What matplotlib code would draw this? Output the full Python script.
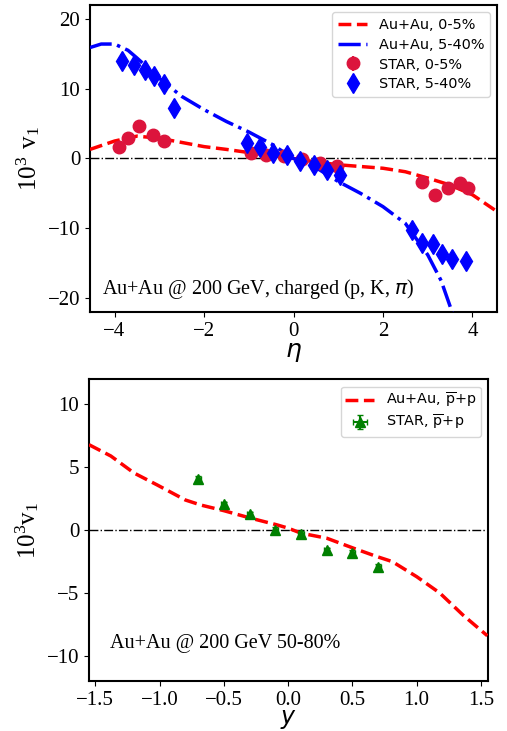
import matplotlib
matplotlib.use("Agg")
import matplotlib.pyplot as plt
import numpy as np

plt.rcParams["font.family"] = ["Liberation Serif", "DejaVu Serif"]
plt.rcParams["mathtext.fontset"] = "dejavusans"
plt.rcParams["axes.linewidth"] = 1.5

# ---- top panel: charged hadrons v1(eta) ----
star_eta_c = [-3.9, -3.7, -3.45, -3.15, -2.9, -0.95, -0.62, -0.22, 0.2, 0.6, 0.97,
              2.87, 3.17, 3.46, 3.72, 3.91]
star_v1_c = [1.6, 3.0, 4.7, 3.4, 2.5, 0.75, 0.5, 0.4, -0.1, -0.7, -1.1,
             -3.3, -5.2, -4.2, -3.45, -4.3]
star_eta_p = [-3.83, -3.57, -3.33, -3.13, -2.9, -2.67, -1.05, -0.75, -0.45, -0.15,
              0.15, 0.45, 0.75, 1.05, 2.66, 2.88, 3.11, 3.33, 3.55, 3.85]
star_v1_p = [13.9, 13.4, 12.7, 11.85, 10.7, 7.2, 2.2, 1.7, 0.8, 0.5,
             -0.3, -1.0, -1.6, -2.4, -10.2, -12.1, -12.3, -13.65, -14.4, -14.75]

model_eta_c = [-4.55, -4.0, -3.5, -3.0, -2.5, -2.0, -1.5, -1.0, -0.5, 0.0, 0.5,
               1.0, 1.5, 2.0, 2.5, 3.0, 3.5, 4.0, 4.55]
model_v1_c = [1.3, 2.5, 3.2, 2.9, 2.3, 1.7, 1.3, 0.85, 0.45, 0.0, -0.5,
              -0.9, -1.15, -1.4, -1.9, -2.8, -3.8, -5.2, -7.6]
model_eta_p = [-4.55, -4.3, -4.0, -3.7, -3.5, -3.0, -2.5, -2.0, -1.5, -1.0, -0.5,
               0.0, 0.5, 1.0, 1.5, 2.0, 2.5, 3.0, 3.3, 3.6]
model_v1_p = [15.9, 16.4, 16.4, 15.5, 14.4, 11.5, 8.9, 7.0, 5.3, 3.8, 2.1,
              0.0, -1.3, -3.3, -5.0, -6.9, -9.3, -13.8, -17.5, -23.0]

# ---- bottom panel: antiproton - proton v1(y) ----
star_y = [-0.7, -0.5, -0.3, -0.1, 0.1, 0.3, 0.5, 0.7]
star_v1_pbar = [4.1, 2.05, 1.25, 0.05, -0.3, -1.6, -1.8, -2.9]
model_y = [-1.55, -1.38, -1.2, -1.02, -0.8, -0.68, -0.5, -0.29, -0.09, 0.0, 0.1,
           0.3, 0.51, 0.69, 0.81, 1.0, 1.18, 1.36, 1.55]
model_v1_pbar = [6.8, 5.9, 4.55, 3.6, 2.4, 2.0, 1.55, 0.95, 0.43, 0.16, -0.24,
                 -0.64, -1.44, -2.1, -2.5, -3.7, -5.0, -6.75, -8.4]

leg_font = {"family": "DejaVu Sans", "size": 10.4}

fig = plt.figure(figsize=(5.07, 7.31), dpi=100)

ax1 = fig.add_axes([0.1775, 0.5732, 0.8028, 0.42])
ax1.axhline(0, color="black", ls="-.", lw=1.0, zorder=1)
ax1.plot(model_eta_c, model_v1_c, "--", color="red", lw=2.5, label="Au+Au, 0-5%", zorder=3)
ax1.plot(model_eta_p, model_v1_p, "-.", color="blue", lw=2.5, label="Au+Au, 5-40%", zorder=3)
ax1.errorbar(star_eta_c, star_v1_c, yerr=0.3, fmt="o", color="crimson", ms=9,
             label="STAR, 0-5%", zorder=4)
ax1.errorbar(star_eta_p, star_v1_p, yerr=0.3, fmt="d", color="blue", ms=10.5,
             label="STAR, 5-40%", zorder=5)
ax1.set_xlim(-4.55, 4.55)
ax1.set_ylim(-22, 22)
ax1.set_xticks([-4, -2, 0, 2, 4])
ax1.set_yticks([-20, -10, 0, 10, 20])
ax1.tick_params(labelsize=15)
ax1.set_xlabel(r"$\eta$", fontsize=18, labelpad=0)
ax1.set_ylabel(r"$\mathregular{10^3\ v_1}$", fontsize=18)
ax1.text(0.03, 0.035, r"Au+Au @ 200 GeV, charged (p, K, $\pi$)", transform=ax1.transAxes,
         fontsize=14.5, va="bottom")
ax1.legend(loc="upper right", prop=leg_font, labelspacing=0.4)

ax2 = fig.add_axes([0.1755, 0.0684, 0.787, 0.4127])
ax2.axhline(0, color="black", ls="-.", lw=1.0, zorder=1)
ax2.plot(model_y, model_v1_pbar, "--", color="red", lw=2.5,
         label=r"Au+Au, $\overline{\mathrm{p}}$+p", zorder=3)
ax2.errorbar(star_y, star_v1_pbar, yerr=0.2, xerr=0.02, fmt="^", color="green", ms=7.5,
             capsize=2, label=r"STAR, $\overline{\mathrm{p}}$+p", zorder=4)
ax2.set_xlim(-1.55, 1.555)
ax2.set_ylim(-12, 12)
ax2.set_xticks([-1.5, -1.0, -0.5, 0.0, 0.5, 1.0, 1.5])
ax2.set_yticks([-10, -5, 0, 5, 10])
ax2.tick_params(labelsize=15)
ax2.set_xlabel(r"$y$", fontsize=17, labelpad=-1)
ax2.set_ylabel(r"$\mathregular{10^3v_1}$", fontsize=18)
ax2.text(0.053, 0.092, "Au+Au @ 200 GeV 50-80%", transform=ax2.transAxes,
         fontsize=14.5, va="bottom")
ax2.legend(loc="upper right", prop=leg_font, labelspacing=0.2, borderpad=0.3)

fig.savefig("out.png", dpi=100)
